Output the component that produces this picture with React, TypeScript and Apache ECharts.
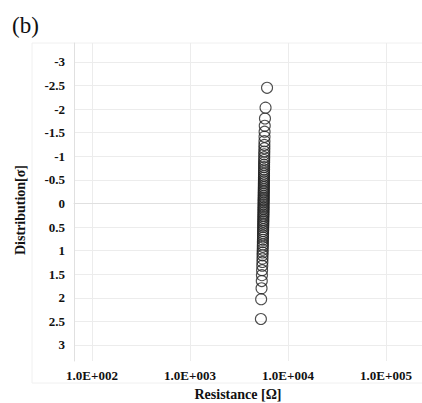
import React, { useEffect, useRef } from "react";
import * as echarts from "echarts";

const sigmaValues: number[] = [
  -2.45, -2.03, -1.8, -1.645, -1.52, -1.415, -1.32, -1.24, -1.17, -1.1,
  -1.04, -0.98, -0.92, -0.87, -0.82, -0.77, -0.72, -0.674, -0.63, -0.585,
  -0.545, -0.5, -0.465, -0.425, -0.385, -0.35, -0.31, -0.27, -0.235, -0.2,
  -0.16, -0.125, -0.09, -0.055, -0.018,
  0.018, 0.055, 0.09, 0.125, 0.16, 0.2, 0.235, 0.27, 0.31, 0.35,
  0.385, 0.425, 0.465, 0.5, 0.545, 0.585, 0.63, 0.674, 0.72, 0.77,
  0.82, 0.87, 0.92, 0.98, 1.04, 1.1, 1.17, 1.24, 1.32, 1.415,
  1.52, 1.645, 1.8, 2.03, 2.45,
];

const resistanceValues: number[] = [
  6110, 5900, 5820, 5790, 5770, 5760, 5750, 5740, 5740, 5730,
  5720, 5720, 5710, 5710, 5700, 5700, 5700, 5690, 5690, 5690,
  5680, 5680, 5680, 5670, 5670, 5670, 5660, 5660, 5660, 5650,
  5650, 5650, 5640, 5640, 5640,
  5630, 5630, 5630, 5620, 5620, 5620, 5610, 5610, 5600, 5600,
  5600, 5590, 5590, 5580, 5580, 5570, 5570, 5560, 5560, 5550,
  5540, 5540, 5530, 5520, 5510, 5500, 5490, 5480, 5460, 5440,
  5420, 5400, 5370, 5320, 5290,
];

const yTicks: number[] = [-3, -2.5, -2, -1.5, -1, -0.5, 0, 0.5, 1, 1.5, 2, 2.5, 3];
const xTicks: number[] = [100, 1000, 10000, 100000];

const labelFont = {
  fontFamily: "Liberation Serif",
  fontWeight: "bold" as const,
  fontSize: 13,
  color: "#111",
};

export default function App() {
  const ref = useRef<HTMLDivElement>(null);
  useEffect(() => {
    if (!ref.current) return;
    const chart = echarts.init(ref.current, null, { renderer: "svg" });
    const data = sigmaValues.map((s, i) => [resistanceValues[i], s]);
    chart.setOption({
      animation: false,
      backgroundColor: "#fff",
      grid: { left: 74, right: 0, top: 43, bottom: 42, show: false },
      xAxis: {
        type: "log",
        logBase: 10,
        min: 65.5,
        max: 233000,
        axisLine: { show: true, lineStyle: { color: "#e0e0e0", width: 1 } },
        axisTick: { show: false, customValues: xTicks },
        axisLabel: {
          ...labelFont,
          margin: 8,
          customValues: xTicks,
          formatter: (v: number) =>
            "1.0E+" + String(Math.round(Math.log10(v))).padStart(3, "0"),
        },
        splitLine: { show: true, lineStyle: { color: "#ececec", width: 1 } },
        minorSplitLine: { show: false },
      },
      yAxis: {
        type: "value",
        inverse: true,
        min: -3.4,
        max: 3.34,
        axisLine: { show: true, lineStyle: { color: "#e0e0e0", width: 1 } },
        axisTick: { show: false, customValues: yTicks },
        axisLabel: {
          ...labelFont,
          margin: 9,
          customValues: yTicks,
          formatter: (v: number) => String(v),
        },
        splitLine: { show: true, lineStyle: { color: "#ececec", width: 1 } },
      },
      series: [
        {
          type: "scatter",
          data,
          symbol: "circle",
          symbolSize: 11,
          itemStyle: {
            color: "rgba(255,255,255,0)",
            borderColor: "#222",
            borderWidth: 1.1,
          },
        },
      ],
      graphic: [
        {
          type: "rect",
          shape: { x: 32, y: 43, width: 400, height: 340 },
          style: { fill: "none", stroke: "#f0f0f0", lineWidth: 1 },
          silent: true,
          z: -10,
        },
        {
          type: "text",
          x: 12,
          y: 25,
          style: {
            text: "(b)",
            fontFamily: "Liberation Serif",
            fontSize: 23,
            fill: "#111",
            textVerticalAlign: "middle",
          },
        },
        {
          type: "text",
          x: 20,
          y: 210,
          rotation: Math.PI / 2,
          style: {
            text: "Distribution[σ]",
            fontFamily: "Liberation Serif",
            fontWeight: "bold",
            fontSize: 14,
            fill: "#111",
            textAlign: "center",
            textVerticalAlign: "middle",
          },
        },
        {
          type: "text",
          x: 238,
          y: 394,
          style: {
            text: "Resistance [Ω]",
            fontFamily: "Liberation Serif",
            fontWeight: "bold",
            fontSize: 14,
            fill: "#111",
            textAlign: "center",
            textVerticalAlign: "middle",
          },
        },
      ],
    });
    return () => chart.dispose();
  }, []);
  return <div ref={ref} style={{ width: 422, height: 403, position: "absolute", left: 0, top: 0 }} />;
}
